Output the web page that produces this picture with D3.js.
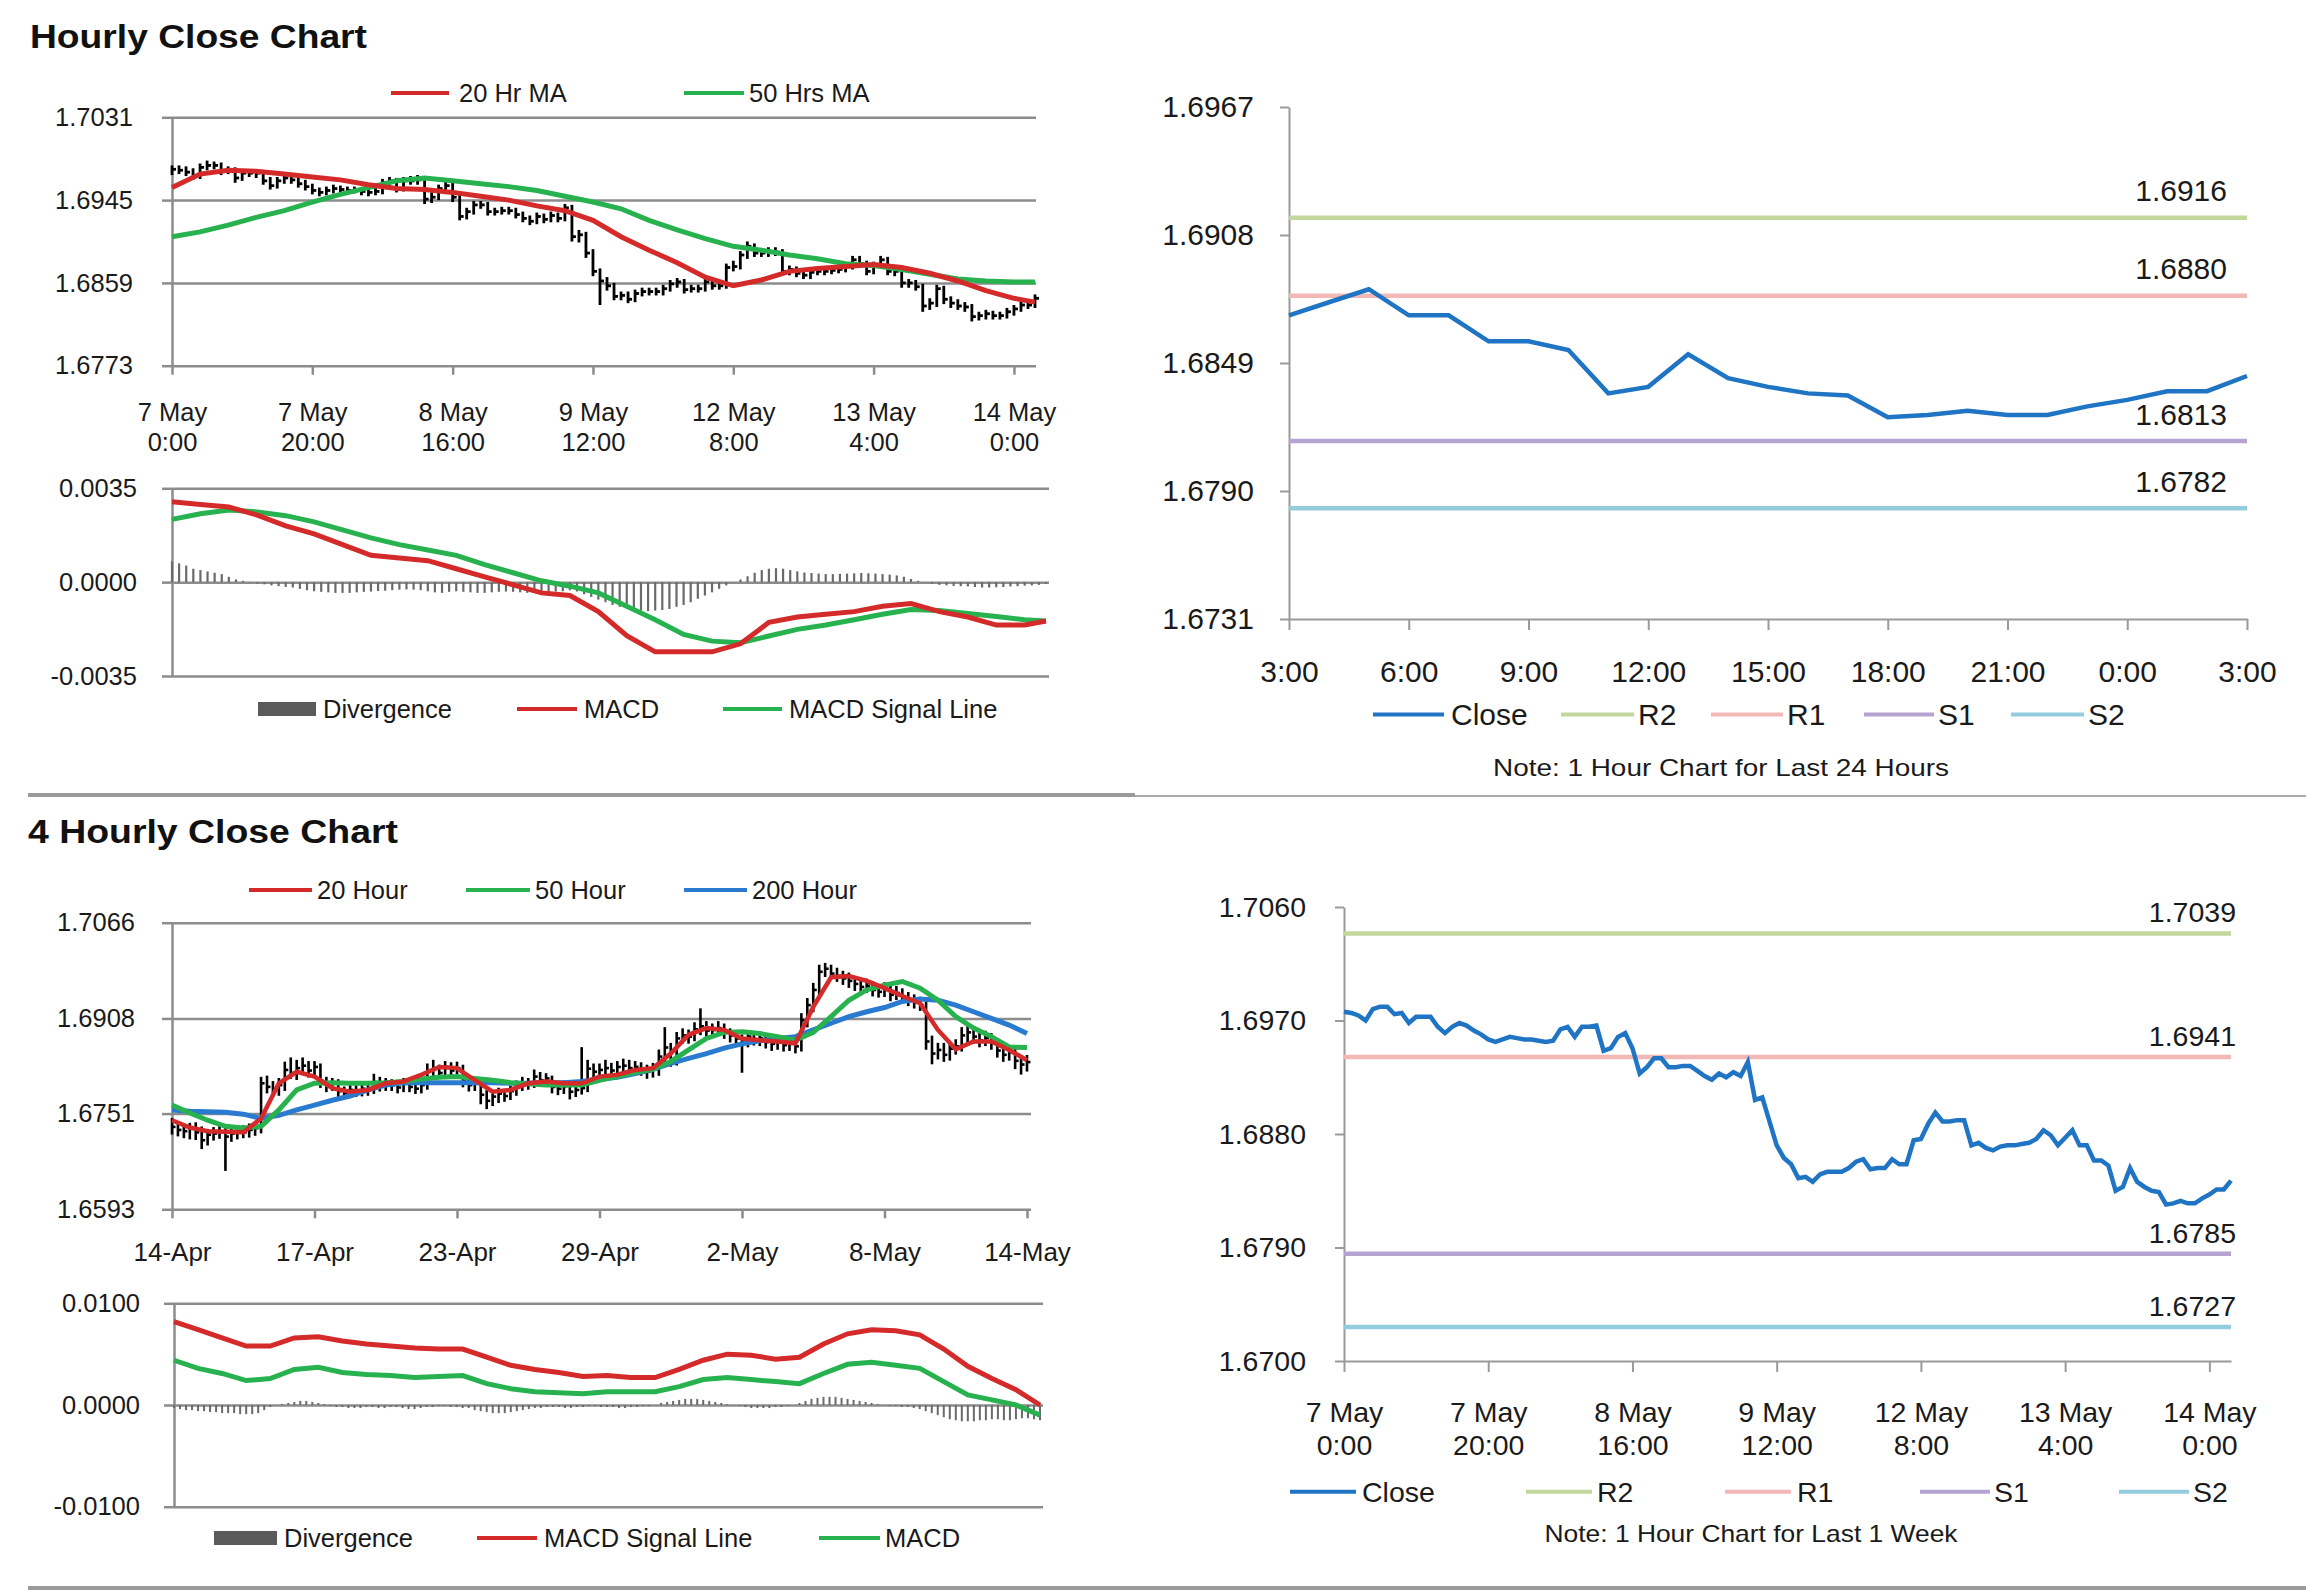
<!DOCTYPE html>
<html><head><meta charset="utf-8">
<script src="https://cdn.jsdelivr.net/npm/d3@7"></script>
<style>
body{margin:0;background:#fff;}
svg{display:block;font-family:"Liberation Sans",Arial,sans-serif;}
</style></head><body>
<svg id="c" width="2306" height="1591"></svg>
<script>
// ---------------- DATA ----------------
const hourlyTickIdx = [0,20,40,60,80,100,120];
const hourlyTickLabels = [["7 May","0:00"],["7 May","20:00"],["8 May","16:00"],["9 May","12:00"],["12 May","8:00"],["13 May","4:00"],["14 May","0:00"]];
const hourlyClose = [1.6977,1.6976,1.6974,1.6970,1.6979,1.6981,1.6981,1.6975,1.6976,1.6968,
1.6973,1.6973,1.6973,1.6965,1.6960,1.6965,1.6968,1.6966,1.6962,1.6959,
1.6955,1.6953,1.6955,1.6957,1.6956,1.6955,1.6955,1.6954,1.6953,1.6954,
1.6963,1.6965,1.6957,1.6965,1.6965,1.6966,1.6946,1.6948,1.6957,1.6960,
1.6948,1.6928,1.6933,1.6940,1.6940,1.6933,1.6933,1.6934,1.6934,1.6930,
1.6926,1.6923,1.6928,1.6925,1.6929,1.6926,1.6937,1.6907,1.6909,1.6890,
1.6871,1.6861,1.6856,1.6845,1.6846,1.6842,1.6848,1.6850,1.6850,1.6850,
1.6853,1.6858,1.6860,1.6852,1.6853,1.6853,1.6860,1.6856,1.6856,1.6875,
1.6876,1.6888,1.6897,1.6890,1.6890,1.6891,1.6891,1.6871,1.6873,1.6869,
1.6867,1.6870,1.6871,1.6871,1.6872,1.6873,1.6876,1.6883,1.6879,1.6871,
1.6877,1.6883,1.6871,1.6871,1.6859,1.6859,1.6855,1.6835,1.6838,1.6853,
1.6842,1.6838,1.6835,1.6834,1.6824,1.6825,1.6827,1.6825,1.6825,1.6829,
1.6832,1.6836,1.6836,1.6843];
const hourlyHigh = [1.6980,1.6980,1.6979,1.6977,1.6982,1.6985,1.6984,1.6983,1.6979,1.6978,
1.6976,1.6976,1.6975,1.6975,1.6968,1.6968,1.6971,1.6970,1.6968,1.6965,
1.6961,1.6957,1.6958,1.6960,1.6959,1.6958,1.6958,1.6957,1.6956,1.6957,
1.6966,1.6968,1.6967,1.6968,1.6969,1.6970,1.6968,1.6952,1.6960,1.6963,
1.6962,1.6950,1.6936,1.6943,1.6943,1.6942,1.6936,1.6937,1.6937,1.6936,
1.6932,1.6928,1.6931,1.6930,1.6932,1.6931,1.6940,1.6939,1.6913,1.6911,
1.6893,1.6873,1.6864,1.6858,1.6849,1.6849,1.6851,1.6853,1.6853,1.6853,
1.6856,1.6861,1.6863,1.6862,1.6856,1.6856,1.6863,1.6862,1.6859,1.6878,
1.6881,1.6891,1.6901,1.6899,1.6894,1.6895,1.6895,1.6893,1.6876,1.6875,
1.6872,1.6873,1.6874,1.6874,1.6875,1.6876,1.6879,1.6886,1.6886,1.6881,
1.6880,1.6886,1.6885,1.6874,1.6873,1.6862,1.6861,1.6857,1.6842,1.6856,
1.6855,1.6844,1.6841,1.6838,1.6836,1.6828,1.6830,1.6829,1.6828,1.6832,
1.6835,1.6839,1.6839,1.6846];
const hourlyLow = [1.6972,1.6973,1.6971,1.6967,1.6968,1.6977,1.6978,1.6972,1.6973,1.6964,
1.6966,1.6970,1.6969,1.6962,1.6957,1.6958,1.6963,1.6963,1.6959,1.6956,
1.6952,1.6950,1.6951,1.6953,1.6954,1.6952,1.6953,1.6951,1.6950,1.6951,
1.6952,1.6960,1.6954,1.6955,1.6962,1.6962,1.6942,1.6943,1.6946,1.6954,
1.6944,1.6925,1.6926,1.6931,1.6937,1.6930,1.6930,1.6931,1.6931,1.6927,
1.6923,1.6920,1.6921,1.6922,1.6923,1.6923,1.6924,1.6903,1.6902,1.6886,
1.6867,1.6837,1.6852,1.6842,1.6842,1.6839,1.6840,1.6846,1.6847,1.6847,
1.6847,1.6851,1.6855,1.6849,1.6850,1.6850,1.6851,1.6853,1.6853,1.6854,
1.6872,1.6874,1.6885,1.6887,1.6887,1.6887,1.6888,1.6868,1.6868,1.6866,
1.6864,1.6864,1.6868,1.6868,1.6869,1.6870,1.6871,1.6874,1.6876,1.6868,
1.6869,1.6875,1.6868,1.6867,1.6855,1.6855,1.6852,1.6830,1.6832,1.6835,
1.6838,1.6834,1.6832,1.6830,1.6820,1.6821,1.6822,1.6822,1.6822,1.6823,
1.6826,1.6830,1.6833,1.6834];
const hourlyGridIdx = [0,4,8,12,16,20,24,28,32,36,40,44,48,52,56,60,64,68,72,76,80,84,88,92,96,100,104,108,112,116,120,123];
const hourlyMA20 = [1.6958,1.6972,1.6976,1.6975,1.6972,1.6969,1.6966,1.6961,1.6957,1.6956,1.6953,1.6949,1.6945,1.6939,1.6934,1.6924,1.6907,1.6893,1.6880,1.6865,1.6856,1.6862,1.6871,1.6874,1.6876,1.6878,1.6875,1.6869,1.6861,1.6851,1.6843,1.6839];
const hourlyMA50 = [1.6907,1.6912,1.6919,1.6927,1.6934,1.6943,1.6951,1.6958,1.6965,1.6968,1.6965,1.6962,1.6959,1.6955,1.6949,1.6943,1.6936,1.6924,1.6914,1.6905,1.6897,1.6893,1.6888,1.6884,1.6879,1.6877,1.6873,1.6868,1.6863,1.6861,1.6860,1.6860];
const hourlyMACD = [0.0030,0.0029,0.0028,0.0025,0.0021,0.0018,0.0014,0.0010,0.0009,0.0008,0.0005,0.0002,-0.0001,-0.0004,-0.0005,-0.0011,-0.0020,-0.0026,-0.0026,-0.0026,-0.0023,-0.0015,-0.0013,-0.0012,-0.0011,-0.0009,-0.0008,-0.0011,-0.0013,-0.0016,-0.0016,-0.00145];
const hourlySignal = [0.00234,0.00255,0.00269,0.00262,0.00248,0.00225,0.00195,0.00165,0.0014,0.0012,0.0010,0.00065,0.00035,0.00005,-0.00015,-0.0004,-0.0009,-0.0014,-0.00195,-0.0022,-0.00226,-0.00201,-0.00176,-0.0016,-0.0014,-0.0012,-0.00102,-0.00106,-0.00117,-0.00128,-0.0014,-0.00145];
const hourlyDivergence = [0.00078,0.00070,0.00062,0.00050,0.00045,0.00040,0.00035,0.00030,0.00020,0.00010,
0.00005,-0.00002,-0.00005,-0.00008,-0.00012,-0.00015,-0.00018,-0.00020,-0.00025,-0.00030,
-0.00034,-0.00036,-0.00038,-0.00040,-0.00040,-0.00040,-0.00038,-0.00036,-0.00035,-0.00033,
-0.00032,-0.00030,-0.00028,-0.00027,-0.00028,-0.00030,-0.00034,-0.00038,-0.00040,-0.00036,
-0.00034,-0.00036,-0.00038,-0.00040,-0.00040,-0.00038,-0.00036,-0.00035,-0.00036,-0.00038,
-0.00040,-0.00040,-0.00038,-0.00036,-0.00035,-0.00034,-0.00030,-0.00035,-0.00045,-0.00055,
-0.00065,-0.00075,-0.00085,-0.00092,-0.00098,-0.00102,-0.00106,-0.00108,-0.00106,-0.00104,
-0.00100,-0.00092,-0.00085,-0.00075,-0.00062,-0.00050,-0.00038,-0.00025,-0.00012,-0.00002,
0.00010,0.00022,0.00035,0.00045,0.00050,0.00052,0.00050,0.00045,0.00040,0.00036,
0.00034,0.00032,0.00030,0.00030,0.00031,0.00032,0.00033,0.00034,0.00033,0.00032,
0.00030,0.00028,0.00025,0.00020,0.00012,0.00005,-0.00002,-0.00006,-0.00010,-0.00012,
-0.00014,-0.00015,-0.00016,-0.00018,-0.00020,-0.00020,-0.00019,-0.00018,-0.00016,-0.00015,
-0.00013,-0.00012,-0.00010,-0.00006];
const hourlyPriceTicks = [1.6773,1.6859,1.6945,1.7031];
const hourlyMacdTicks = [-0.0035,0,0.0035];

const dayLabels = ["3:00","6:00","9:00","12:00","15:00","18:00","21:00","0:00","3:00"];
const dayClose = [1.6871,1.6877,1.6883,1.6871,1.6871,1.6859,1.6859,1.6855,1.6835,1.6838,1.6853,1.6842,1.6838,1.6835,1.6834,1.6824,1.6825,1.6827,1.6825,1.6825,1.6829,1.6832,1.6836,1.6836,1.6843];
const dayTicks = [1.6731,1.6790,1.6849,1.6908,1.6967];
const levelNames = ["R2","R1","S1","S2"];
const dayLevels = [1.6916,1.6880,1.6813,1.6782];

const weekTicks = [1.6700,1.6790,1.6880,1.6970,1.7060];
const weekLevels = [1.7039,1.6941,1.6785,1.6727];

const fourTickIdx = [0,24,48,72,96,120,144];
const fourTickLabels = ["14-Apr","17-Apr","23-Apr","29-Apr","2-May","8-May","14-May"];
const fourClose = [1.6729,1.6724,1.6722,1.6726,1.6720,1.6707,1.6716,1.6718,1.6721,1.6713,
1.6718,1.6722,1.6720,1.6724,1.6727,1.6801,1.6795,1.6790,1.6798,1.6823,
1.6818,1.6826,1.6830,1.6822,1.6828,1.6805,1.6798,1.6801,1.6788,1.6785,
1.6790,1.6787,1.6792,1.6790,1.6803,1.6797,1.6801,1.6798,1.6794,1.6800,
1.6795,1.6792,1.6798,1.6820,1.6825,1.6818,1.6828,1.6822,1.6826,1.6805,
1.6798,1.6801,1.6782,1.6772,1.6779,1.6784,1.6780,1.6788,1.6797,1.6802,
1.6801,1.6812,1.6806,1.6809,1.6795,1.6792,1.6796,1.6787,1.6790,1.6793,
1.6825,1.6820,1.6823,1.6826,1.6822,1.6828,1.6830,1.6826,1.6828,1.6823,
1.6820,1.6826,1.6845,1.6860,1.6839,1.6875,1.6880,1.6878,1.6890,1.6895,
1.6888,1.6889,1.6892,1.6886,1.6880,1.6875,1.6870,1.6878,1.6874,1.6875,
1.6869,1.6866,1.6870,1.6864,1.6866,1.6862,1.6905,1.6930,1.6955,1.6985,
1.6990,1.6982,1.6978,1.6974,1.6970,1.6965,1.6960,1.6962,1.6955,1.6952,
1.6956,1.6947,1.6950,1.6944,1.6938,1.6935,1.6930,1.6870,1.6850,1.6856,
1.6848,1.6858,1.6862,1.6880,1.6885,1.6878,1.6872,1.6876,1.6868,1.6855,
1.6848,1.6852,1.6838,1.6832,1.6836];
const fourHigh = [1.6742,1.6737,1.6732,1.6734,1.6735,1.6728,1.6724,1.6727,1.6730,1.6729,
1.6726,1.6730,1.6730,1.6733,1.6736,1.6810,1.6812,1.6803,1.6808,1.6835,
1.6842,1.6838,1.6842,1.6836,1.6836,1.6832,1.6810,1.6808,1.6806,1.6794,
1.6797,1.6796,1.6800,1.6798,1.6815,1.6810,1.6808,1.6806,1.6803,1.6808,
1.6805,1.6800,1.6806,1.6832,1.6838,1.6830,1.6836,1.6834,1.6835,1.6830,
1.6812,1.6808,1.6806,1.6788,1.6786,1.6792,1.6790,1.6795,1.6804,1.6810,
1.6808,1.6822,1.6818,1.6816,1.6812,1.6800,1.6804,1.6800,1.6798,1.6859,
1.6838,1.6832,1.6832,1.6838,1.6833,1.6836,1.6840,1.6838,1.6836,1.6834,
1.6830,1.6833,1.6855,1.6892,1.6866,1.6884,1.6890,1.6888,1.6900,1.6923,
1.6902,1.6898,1.6902,1.6898,1.6890,1.6885,1.6880,1.6886,1.6884,1.6883,
1.6880,1.6874,1.6878,1.6876,1.6874,1.6872,1.6915,1.6940,1.6965,1.6995,
1.6998,1.6995,1.6990,1.6985,1.6982,1.6976,1.6972,1.6972,1.6968,1.6962,
1.6966,1.6962,1.6960,1.6956,1.6950,1.6946,1.6942,1.6935,1.6878,1.6866,
1.6866,1.6868,1.6872,1.6892,1.6895,1.6890,1.6886,1.6886,1.6882,1.6870,
1.6862,1.6862,1.6858,1.6845,1.6846];
const fourLow = [1.6718,1.6715,1.6712,1.6710,1.6709,1.6694,1.6700,1.6708,1.6711,1.6658,
1.6706,1.6710,1.6712,1.6713,1.6716,1.6720,1.6786,1.6780,1.6782,1.6790,
1.6810,1.6808,1.6818,1.6812,1.6814,1.6795,1.6788,1.6790,1.6780,1.6777,
1.6779,1.6780,1.6781,1.6782,1.6785,1.6789,1.6790,1.6790,1.6786,1.6788,
1.6788,1.6785,1.6786,1.6792,1.6814,1.6810,1.6812,1.6814,1.6815,1.6796,
1.6789,1.6790,1.6768,1.6760,1.6765,1.6770,1.6772,1.6775,1.6782,1.6790,
1.6792,1.6795,1.6798,1.6800,1.6786,1.6783,1.6785,1.6776,1.6780,1.6784,
1.6788,1.6810,1.6812,1.6815,1.6813,1.6815,1.6820,1.6818,1.6818,1.6815,
1.6810,1.6812,1.6815,1.6838,1.6830,1.6832,1.6868,1.6868,1.6872,1.6882,
1.6878,1.6880,1.6882,1.6876,1.6870,1.6865,1.6820,1.6862,1.6865,1.6864,
1.6860,1.6856,1.6858,1.6855,1.6856,1.6852,1.6855,1.6895,1.6920,1.6945,
1.6978,1.6974,1.6970,1.6965,1.6960,1.6955,1.6950,1.6952,1.6946,1.6944,
1.6945,1.6938,1.6940,1.6935,1.6930,1.6926,1.6922,1.6858,1.6834,1.6842,
1.6838,1.6840,1.6850,1.6855,1.6870,1.6868,1.6862,1.6864,1.6858,1.6845,
1.6838,1.6840,1.6826,1.6817,1.6822];
const fourGridIdx = [0,3,6,9,12,15,18,21,24,27,30,33,36,39,42,45,48,51,54,57,60,63,66,69,72,75,78,81,84,87,90,93,96,99,102,105,108,111,114,117,120,123,126,129,132,135,138,141,144];
const fourMA20 = [1.6740,1.6728,1.6722,1.6721,1.6720,1.6743,1.6801,1.6820,1.6812,1.6793,1.6787,1.6790,1.6801,1.6804,1.6815,1.6828,1.6826,1.6806,1.6787,1.6790,1.6801,1.6804,1.6801,1.6801,1.6812,1.6815,1.6823,1.6826,1.6850,1.6881,1.6892,1.6889,1.6875,1.6872,1.6870,1.6867,1.6927,1.6976,1.6978,1.6970,1.6958,1.6945,1.6933,1.6889,1.6857,1.6870,1.6870,1.6856,1.6839];
const fourMA50 = [1.6765,1.6752,1.6740,1.6730,1.6727,1.6730,1.6757,1.6790,1.6801,1.6802,1.6801,1.6801,1.6802,1.6804,1.6808,1.6811,1.6812,1.6809,1.6806,1.6802,1.6800,1.6798,1.6798,1.6798,1.6806,1.6812,1.6819,1.6824,1.6837,1.6856,1.6875,1.6885,1.6886,1.6883,1.6878,1.6872,1.6885,1.6911,1.6938,1.6955,1.6963,1.6969,1.6958,1.6938,1.6911,1.6892,1.6878,1.6861,1.6860];
const fourMA200 = [1.6757,1.6755,1.6754,1.6753,1.6750,1.6743,1.6748,1.6757,1.6765,1.6773,1.6780,1.6790,1.6798,1.6802,1.6802,1.6802,1.6802,1.6802,1.6802,1.6801,1.6801,1.6802,1.6802,1.6804,1.6808,1.6811,1.6817,1.6824,1.6834,1.6842,1.6850,1.6859,1.6866,1.6871,1.6875,1.6878,1.6889,1.6900,1.6911,1.6919,1.6926,1.6936,1.6940,1.6938,1.6930,1.6919,1.6908,1.6897,1.6883];
const fourMacdIdx = [0,4,8,12,16,20,24,28,32,36,40,44,48,52,56,60,64,68,72,76,80,84,88,92,96,100,104,108,112,116,120,124,128,132,136,140,144];
const fourSignal = [0.0082,0.0074,0.0066,0.0058,0.0058,0.0066,0.0067,0.0063,0.0060,0.0058,0.0056,0.0055,0.0055,0.0047,0.0039,0.0035,0.0032,0.0028,0.0029,0.0027,0.0027,0.0035,0.0044,0.0050,0.0049,0.0045,0.0047,0.0060,0.0070,0.0074,0.0073,0.0069,0.0055,0.0038,0.0026,0.0015,0.0000];
const fourMACD = [0.0044,0.0036,0.0031,0.0024,0.0026,0.0035,0.0037,0.0032,0.0030,0.0029,0.0027,0.0028,0.0029,0.0021,0.0016,0.0013,0.0012,0.0011,0.0013,0.0013,0.0013,0.0018,0.0025,0.0027,0.0025,0.0023,0.0021,0.0031,0.0040,0.0042,0.0039,0.0036,0.0023,0.0010,0.0005,0.0000,-0.0010];
const fourDivergence = [-0.0003,-0.0004,-0.0005,-0.0005,-0.0006,-0.0006,-0.0007,-0.0007,-0.0008,-0.0008,-0.0008,-0.0009,-0.0009,-0.0009,-0.0008,
-0.0005,-0.0002,0.0000,0.0001,0.0002,0.0003,0.0004,0.0004,0.0003,0.0002,0.0001,-0.0001,-0.0002,-0.0002,-0.0003,
-0.0003,-0.0003,-0.0002,-0.0002,-0.0003,-0.0003,-0.0002,-0.0002,-0.0003,-0.0004,-0.0004,-0.0003,-0.0002,-0.0002,-0.0001,-0.0001,-0.0002,-0.0002,-0.0003,-0.0003,
-0.0005,-0.0006,-0.0007,-0.0008,-0.0008,-0.0008,-0.0007,-0.0006,-0.0005,-0.0004,-0.0003,-0.0003,-0.0002,-0.0002,-0.0002,-0.0003,-0.0003,-0.0002,-0.0002,-0.0001,
-0.0001,-0.0002,-0.0002,-0.0002,-0.0003,-0.0003,-0.0002,-0.0002,-0.0001,-0.0001,0.0000,0.0002,0.0003,0.0004,0.0005,0.0006,0.0006,0.0006,0.0005,0.0004,
0.0003,0.0002,0.0001,0.0000,-0.0001,-0.0002,-0.0003,-0.0003,-0.0003,-0.0003,-0.0002,-0.0002,-0.0001,0.0000,0.0002,0.0004,0.0006,0.0007,0.0008,0.0008,
0.0008,0.0007,0.0006,0.0005,0.0004,0.0003,0.0002,0.0001,0.0000,-0.0001,-0.0001,-0.0002,-0.0002,-0.0003,-0.0004,-0.0006,-0.0008,-0.0010,-0.0012,-0.0014,
-0.0015,-0.0016,-0.0016,-0.0016,-0.0015,-0.0015,-0.0014,-0.0014,-0.0015,-0.0015,-0.0014,-0.0013,-0.0013,-0.0014,-0.0015];
const fourPriceTicks = [1.6593,1.6751,1.6908,1.7066];
const fourMacdTicks = [-0.01,0,0.01];

// ---------------- STYLE ----------------
const TXT = "#1a1a1a", GRID = "#8c8c8c", AXIS_R = "#9a9a9a";
const RED = "#d42a2a", GREEN = "#27b24f", BLUE = "#2a7bd0", CLOSE_BLUE = "#1f74c4", DIV = "#6a6a6a";
const LEVEL_COLORS = ["#c3d69b","#f2b8b6","#b5a4d2","#93cddd"];
const FS_L = 25.5;
const svg = d3.select("#c");
svg.append("rect").attr("width",2306).attr("height",1591).attr("fill","#fff");

function styleAxis(g, color, fs, width){
  g.attr("font-size", fs).attr("font-family", null);
  g.select(".domain").attr("stroke", color).attr("stroke-width", width);
  g.selectAll(".tick line").attr("stroke", color).attr("stroke-width", width);
  g.selectAll(".tick text").attr("fill", TXT);
}
function leftPanelY(y, x0, x1, ticks, pad, fmt){
  svg.append("g").attr("transform",`translate(${x0},0)`)
    .call(d3.axisLeft(y).tickValues(ticks).tickSize(-(x1-x0)).tickFormat(""))
    .call(g=>{g.select(".domain").remove(); g.selectAll("line").attr("stroke",GRID).attr("stroke-width",2.5);});
  svg.append("g").attr("transform",`translate(${x0},0)`)
    .call(d3.axisLeft(y).tickValues(ticks).tickSize(10).tickSizeOuter(0).tickPadding(pad).tickFormat(fmt))
    .call(g=>styleAxis(g, GRID, FS_L, 2.5));
}
function legend(y, items, fs){
  const g = svg.append("g").attr("font-size", fs).attr("fill", TXT);
  items.forEach(it=>{
    if(it.rect){
      g.append("rect").attr("x",it.x1).attr("y",y-7).attr("width",it.x2-it.x1).attr("height",14).attr("fill",it.color);
    } else {
      g.append("line").attr("x1",it.x1).attr("x2",it.x2).attr("y1",y).attr("y2",y).attr("stroke",it.color).attr("stroke-width",4);
    }
    g.append("text").attr("x",it.tx).attr("y",y).attr("dy","0.35em").text(it.label);
  });
}
const fmt4 = d=>d.toFixed(4);

// ---------------- TITLES & SEPARATORS ----------------
svg.append("text").attr("x",30).attr("y",48).attr("font-size",33).attr("font-weight","bold").attr("fill","#111")
  .attr("textLength",337).attr("lengthAdjust","spacingAndGlyphs").text("Hourly Close Chart");
svg.append("text").attr("x",28).attr("y",843).attr("font-size",33).attr("font-weight","bold").attr("fill","#111")
  .attr("textLength",370).attr("lengthAdjust","spacingAndGlyphs").text("4 Hourly Close Chart");
svg.append("line").attr("x1",28).attr("x2",1135).attr("y1",795).attr("y2",795).attr("stroke","#9a9a9a").attr("stroke-width",4);
svg.append("line").attr("x1",1135).attr("x2",2306).attr("y1",796).attr("y2",796).attr("stroke","#aaaaaa").attr("stroke-width",2);
svg.append("line").attr("x1",28).attr("x2",2306).attr("y1",1588).attr("y2",1588).attr("stroke","#9a9a9a").attr("stroke-width",4);

// ---------------- PANEL A: hourly price ----------------
{
  const x = d3.scaleLinear().domain([0,123]).range([172,1035]);
  const y = d3.scaleLinear().domain([1.6773,1.7031]).range([365.7,117.3]);
  leftPanelY(y, 172, 1036, hourlyPriceTicks, 29, fmt4);
  const ax = svg.append("g").attr("transform","translate(0,365.7)")
    .call(d3.axisBottom(x).tickValues(hourlyTickIdx).tickSize(9).tickSizeOuter(0).tickFormat(""))
    .call(g=>styleAxis(g, GRID, FS_L, 2.5));
  ax.select(".domain").remove();
  ax.selectAll(".tick").each(function(d,i){
    const t = d3.select(this).append("text").attr("fill",TXT).attr("text-anchor","middle");
    t.append("tspan").attr("x",0).attr("y",55).text(hourlyTickLabels[i][0]);
    t.append("tspan").attr("x",0).attr("y",85).text(hourlyTickLabels[i][1]);
  });
  const bars = svg.append("g").attr("stroke","#000").attr("stroke-width",2.8);
  hourlyClose.forEach((c,i)=>{
    bars.append("line").attr("x1",x(i)).attr("x2",x(i)).attr("y1",y(hourlyHigh[i])-1).attr("y2",y(hourlyLow[i])+1);
    bars.append("line").attr("x1",x(i)).attr("x2",x(i)+4).attr("y1",y(c)).attr("y2",y(c));
  });
  const line = d3.line().x(d=>x(d[0])).y(d=>y(d[1]));
  svg.append("path").datum(d3.zip(hourlyGridIdx,hourlyMA50)).attr("d",line).attr("fill","none").attr("stroke",GREEN).attr("stroke-width",5);
  svg.append("path").datum(d3.zip(hourlyGridIdx,hourlyMA20)).attr("d",line).attr("fill","none").attr("stroke",RED).attr("stroke-width",5);
  legend(93,[{x1:391,x2:449,tx:459,color:RED,label:"20 Hr MA"},{x1:684,x2:744,tx:749,color:GREEN,label:"50 Hrs MA"}],FS_L);
}

// ---------------- PANEL B: hourly MACD ----------------
{
  const x = d3.scaleLinear().domain([0,123]).range([172,1046]);
  const y = d3.scaleLinear().domain([-0.0035,0.0035]).range([676,488.3]);
  leftPanelY(y, 172, 1049, hourlyMacdTicks, 25, fmt4);
  svg.append("g").attr("stroke",DIV).attr("stroke-width",2.2).selectAll("line").data(hourlyDivergence).join("line")
    .attr("x1",(d,i)=>x(i)).attr("x2",(d,i)=>x(i)).attr("y1",y(0)).attr("y2",d=>y(d));
  const line = d3.line().x(d=>x(d[0])).y(d=>y(d[1]));
  svg.append("path").datum(d3.zip(hourlyGridIdx,hourlySignal)).attr("d",line).attr("fill","none").attr("stroke",GREEN).attr("stroke-width",5);
  svg.append("path").datum(d3.zip(hourlyGridIdx,hourlyMACD)).attr("d",line).attr("fill","none").attr("stroke",RED).attr("stroke-width",5);
  legend(709,[{rect:true,x1:258,x2:316,tx:323,color:"#5a5a5a",label:"Divergence"},
              {x1:517,x2:577,tx:584,color:RED,label:"MACD"},
              {x1:723,x2:782,tx:789,color:GREEN,label:"MACD Signal Line"}],FS_L);
}

// ---------------- PANEL C: last 24 hours ----------------
{
  const x = d3.scaleLinear().domain([0,24]).range([1289,2247]);
  const y = d3.scaleLinear().domain([1.6731,1.6967]).range([619,107]);
  svg.append("g").attr("transform","translate(1289,0)")
    .call(d3.axisLeft(y).tickValues(dayTicks).tickSize(9).tickSizeOuter(0).tickPadding(26).tickFormat(fmt4))
    .call(g=>styleAxis(g, AXIS_R, 30, 2));
  svg.append("g").attr("transform","translate(0,619)")
    .call(d3.axisBottom(x).tickValues(d3.range(0,25,3)).tickSize(11).tickSizeOuter(0).tickPadding(31).tickFormat((d,i)=>dayLabels[i]))
    .call(g=>styleAxis(g, AXIS_R, 30, 2));
  dayLevels.forEach((v,i)=>{
    svg.append("line").attr("x1",1289).attr("x2",2247).attr("y1",y(v)).attr("y2",y(v)).attr("stroke",LEVEL_COLORS[i]).attr("stroke-width",4.5);
    svg.append("text").attr("x",2227).attr("y",y(v)-27).attr("dy","0.35em").attr("text-anchor","end").attr("font-size",30).attr("fill",TXT).text(fmt4(v));
  });
  svg.append("path").datum(dayClose).attr("d",d3.line().x((d,i)=>x(i)).y(d=>y(d))).attr("fill","none").attr("stroke",CLOSE_BLUE).attr("stroke-width",4.5);
  legend(714.6,[{x1:1373,x2:1444,tx:1451,color:CLOSE_BLUE,label:"Close"},
    {x1:1561,x2:1634,tx:1638,color:LEVEL_COLORS[0],label:levelNames[0]},
    {x1:1711,x2:1783,tx:1787,color:LEVEL_COLORS[1],label:levelNames[1]},
    {x1:1864,x2:1934,tx:1938,color:LEVEL_COLORS[2],label:levelNames[2]},
    {x1:2011,x2:2084,tx:2088,color:LEVEL_COLORS[3],label:levelNames[3]}],30);
  svg.append("text").attr("x",1721).attr("y",768).attr("dy","0.35em").attr("text-anchor","middle").attr("font-size",24)
    .attr("fill",TXT).attr("textLength",456).attr("lengthAdjust","spacingAndGlyphs").text("Note: 1 Hour Chart for Last 24 Hours");
}

// ---------------- PANEL D: 4 hourly price ----------------
{
  const x = d3.scaleLinear().domain([0,144]).range([172,1027]);
  const y = d3.scaleLinear().domain([1.6593,1.7066]).range([1209.3,922.7]);
  leftPanelY(y, 172, 1031, fourPriceTicks, 27, fmt4);
  svg.append("g").attr("transform","translate(0,1209.3)")
    .call(d3.axisBottom(x).tickValues(fourTickIdx).tickSize(9).tickSizeOuter(0).tickPadding(24).tickFormat((d,i)=>fourTickLabels[i]))
    .call(g=>{styleAxis(g, GRID, 26, 2.5); g.select(".domain").remove();});
  const bars = svg.append("g").attr("stroke","#000").attr("stroke-width",2.6);
  fourClose.forEach((c,i)=>{
    bars.append("line").attr("x1",x(i)).attr("x2",x(i)).attr("y1",y(fourHigh[i])-1).attr("y2",y(fourLow[i])+1);
    bars.append("line").attr("x1",x(i)).attr("x2",x(i)+3.5).attr("y1",y(c)).attr("y2",y(c));
  });
  const line = d3.line().x(d=>x(d[0])).y(d=>y(d[1]));
  svg.append("path").datum(d3.zip(fourGridIdx,fourMA200)).attr("d",line).attr("fill","none").attr("stroke",BLUE).attr("stroke-width",5);
  svg.append("path").datum(d3.zip(fourGridIdx,fourMA50)).attr("d",line).attr("fill","none").attr("stroke",GREEN).attr("stroke-width",5);
  svg.append("path").datum(d3.zip(fourGridIdx,fourMA20)).attr("d",line).attr("fill","none").attr("stroke",RED).attr("stroke-width",4.5);
  legend(890,[{x1:249,x2:312,tx:317,color:RED,label:"20 Hour"},
    {x1:466,x2:530,tx:535,color:GREEN,label:"50 Hour"},
    {x1:684,x2:747,tx:752,color:BLUE,label:"200 Hour"}],FS_L);
}

// ---------------- PANEL E: 4 hourly MACD ----------------
{
  const x = d3.scaleLinear().domain([0,144]).range([174,1040]);
  const y = d3.scaleLinear().domain([-0.01,0.01]).range([1506.7,1303.3]);
  leftPanelY(y, 174, 1043, fourMacdTicks, 24, fmt4);
  svg.append("g").attr("stroke",DIV).attr("stroke-width",2).selectAll("line").data(fourDivergence).join("line")
    .attr("x1",(d,i)=>x(i)).attr("x2",(d,i)=>x(i)).attr("y1",y(0)).attr("y2",d=>y(d));
  const line = d3.line().x(d=>x(d[0])).y(d=>y(d[1]));
  svg.append("path").datum(d3.zip(fourMacdIdx,fourMACD)).attr("d",line).attr("fill","none").attr("stroke",GREEN).attr("stroke-width",5);
  svg.append("path").datum(d3.zip(fourMacdIdx,fourSignal)).attr("d",line).attr("fill","none").attr("stroke",RED).attr("stroke-width",5);
  legend(1538,[{rect:true,x1:214,x2:277,tx:284,color:"#5a5a5a",label:"Divergence"},
    {x1:477,x2:537,tx:544,color:RED,label:"MACD Signal Line"},
    {x1:819,x2:880,tx:885,color:GREEN,label:"MACD"}],FS_L);
}

// ---------------- PANEL F: last 1 week ----------------
{
  const x = d3.scaleLinear().domain([0,123]).range([1344,2231]);
  const y = d3.scaleLinear().domain([1.6700,1.7060]).range([1361,907]);
  svg.append("g").attr("transform","translate(1344,0)")
    .call(d3.axisLeft(y).tickValues(weekTicks).tickSize(9).tickSizeOuter(0).tickPadding(29).tickFormat(fmt4))
    .call(g=>styleAxis(g, AXIS_R, 28.5, 2));
  const ax = svg.append("g").attr("transform","translate(0,1361)")
    .call(d3.axisBottom(x).tickValues(hourlyTickIdx).tickSize(11).tickSizeOuter(0).tickFormat(""))
    .call(g=>styleAxis(g, AXIS_R, 28.5, 2));
  ax.selectAll(".tick").each(function(d,i){
    const t = d3.select(this).append("text").attr("fill",TXT).attr("text-anchor","middle");
    t.append("tspan").attr("x",0).attr("y",61).text(hourlyTickLabels[i][0]);
    t.append("tspan").attr("x",0).attr("y",94).text(hourlyTickLabels[i][1]);
  });
  weekLevels.forEach((v,i)=>{
    svg.append("line").attr("x1",1344).attr("x2",2231).attr("y1",y(v)).attr("y2",y(v)).attr("stroke",LEVEL_COLORS[i]).attr("stroke-width",4.5);
    svg.append("text").attr("x",2236).attr("y",y(v)-21).attr("dy","0.35em").attr("text-anchor","end").attr("font-size",28.5).attr("fill",TXT).text(fmt4(v));
  });
  svg.append("path").datum(hourlyClose).attr("d",d3.line().x((d,i)=>x(i)).y(d=>y(d))).attr("fill","none").attr("stroke",CLOSE_BLUE).attr("stroke-width",4.5);
  legend(1491.7,[{x1:1290,x2:1356,tx:1362,color:CLOSE_BLUE,label:"Close"},
    {x1:1526,x2:1592,tx:1597,color:LEVEL_COLORS[0],label:levelNames[0]},
    {x1:1725,x2:1791,tx:1797,color:LEVEL_COLORS[1],label:levelNames[1]},
    {x1:1920,x2:1990,tx:1994,color:LEVEL_COLORS[2],label:levelNames[2]},
    {x1:2119,x2:2189,tx:2193,color:LEVEL_COLORS[3],label:levelNames[3]}],28.5);
  svg.append("text").attr("x",1751).attr("y",1533.6).attr("dy","0.35em").attr("text-anchor","middle").attr("font-size",24)
    .attr("fill",TXT).attr("textLength",413).attr("lengthAdjust","spacingAndGlyphs").text("Note: 1 Hour Chart for Last 1 Week");
}
</script>
</body></html>
